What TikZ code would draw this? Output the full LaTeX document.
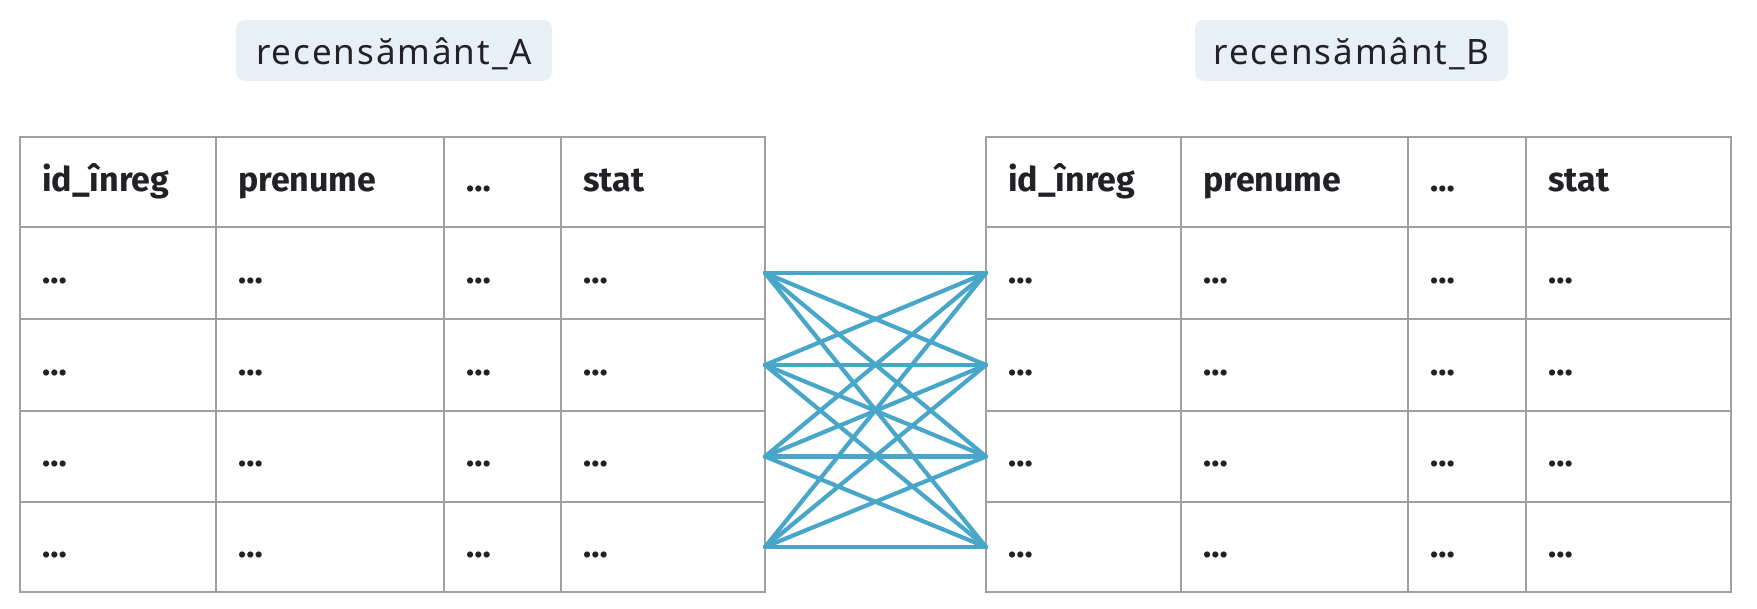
\documentclass[tikz,border=0pt]{standalone}
\usepackage{fontspec}
\setmainfont{Fira Sans}
\newfontfamily\titlefont[LetterSpace=5.5]{Noto Sans}
\begin{document}
\begin{tikzpicture}[x=1pt,y=-1pt,
  gridbox/.style={draw=gridgray, line width=2pt, inner sep=0pt, outer sep=0pt},
  headtext/.style={anchor=base west, inner sep=0pt, font=\fontsize{34}{40}\selectfont\bfseries, text=inkdark},
  celltext/.style={anchor=base west, inner sep=0pt, font=\fontsize{34}{40}\selectfont\bfseries, text=inkdark},
  titlebox/.style={fill=titlefill, rounded corners=9pt, inner sep=0pt, text height=44pt, text depth=17pt, font=\titlefont\fontsize{35}{40}\selectfont, text=inkdark},
  link/.style={draw=linkblue, line width=4.2pt, line cap=round}]
\definecolor{gridgray}{RGB}{160,160,160}
\definecolor{inkdark}{RGB}{34,34,38}
\definecolor{titlefill}{RGB}{232,240,247}
\definecolor{linkblue}{RGB}{72,166,200}
\useasboundingbox[fill=white] (0,0) rectangle (1757,608);

\node[titlebox, minimum width=316pt] (tA) at (394,50.5) {recensământ\_A};
\node[titlebox, minimum width=313pt] (tB) at (1351.5,50.5) {recensământ\_B};

\foreach \tab/\xa/\xb/\xc/\xd/\xe in {A/20/216/444/561/765, B/986/1181/1408/1526/1731}{
  \foreach \r/\ya/\yb in {0/137/227,1/227/319,2/319/411,3/411/502,4/502/592}{
    \foreach \c/\la/\lb in {1/\xa/\xb,2/\xb/\xc,3/\xc/\xd,4/\xd/\xe}{
      \node[gridbox, minimum width={\lb-\la}, minimum height={\yb-\ya}] (\tab-\r-\c) at ({(\la+\lb)/2},{(\ya+\yb)/2}) {};
    }
  }
  \node[headtext] (\tab-h1) at (\xa+22,191) {id\_înreg};
  \node[headtext] (\tab-h2) at (\xb+22,191) {prenume};
  \node[headtext] (\tab-h3) at (\xc+22,191) {…};
  \node[headtext] (\tab-h4) at (\xd+22,191) {stat};
  \foreach \r/\yb in {1/283,2/375,3/466,4/557}{
    \node[celltext] (\tab-d\r1) at (\xa+22,\yb) {…};
    \node[celltext] (\tab-d\r2) at (\xb+22,\yb) {…};
    \node[celltext] (\tab-d\r3) at (\xc+22,\yb) {…};
    \node[celltext] (\tab-d\r4) at (\xd+22,\yb) {…};
  }
}

\foreach \i in {1,...,4}{
  \foreach \j in {1,...,4}{
    \draw[link] (A-\i-4.east) -- (B-\j-1.west);
  }
}
\end{tikzpicture}
\end{document}
